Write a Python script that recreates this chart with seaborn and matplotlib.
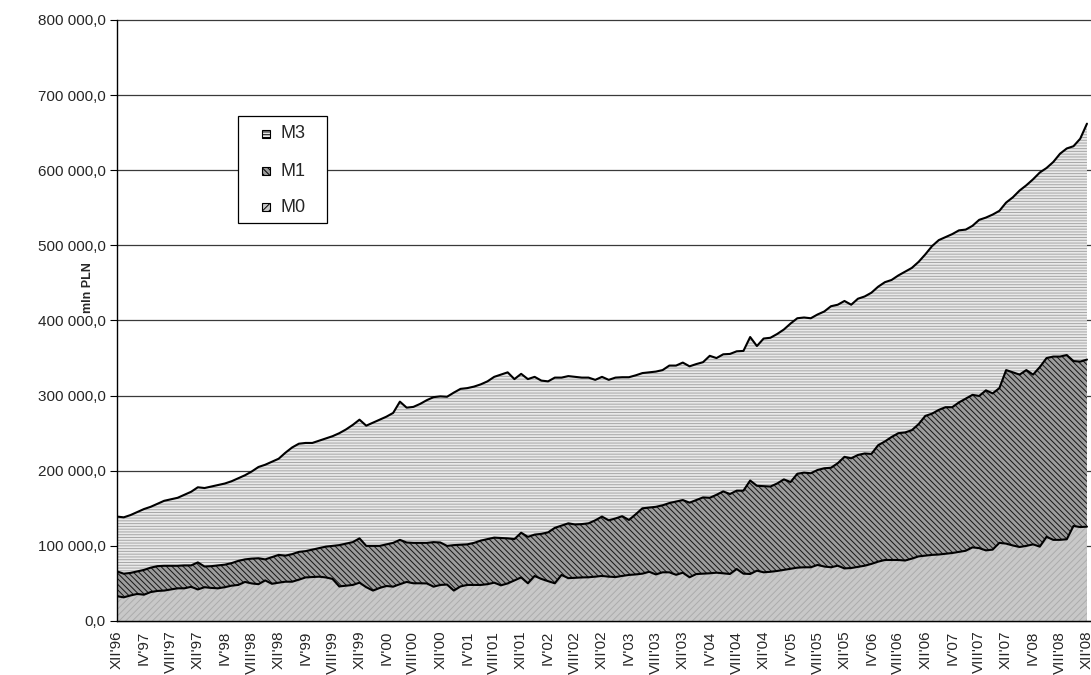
import numpy as np
import pandas as pd
import matplotlib
matplotlib.use("Agg")
import matplotlib.pyplot as plt
import seaborn as sns
from matplotlib.patches import Rectangle

# Monthly money aggregates, XII'96 .. XII'08, in thousands of mln PLN
m3_k = [
    139, 138, 141, 145, 149, 152, 156, 160, 162, 164,
    168, 172, 178, 177, 179, 181, 183, 186, 190, 194,
    199, 205, 208, 212, 216, 224, 231, 236, 237, 237,
    240, 243, 246, 250, 255, 261, 268, 260, 264, 268,
    272, 277, 292, 284, 285, 289, 294, 298, 299, 298.5,
    304, 309, 310, 312, 315, 319, 325, 328, 331, 322,
    329, 322, 325, 320, 319, 324, 324, 326, 325, 324,
    324, 321, 325, 321, 324, 324.5, 324.5, 327, 330, 331,
    332, 334, 340, 340, 344, 339, 342, 344.5, 353, 350,
    355, 355.5, 359, 359.5, 378, 366, 376, 377, 382, 388,
    396, 403, 404, 403, 408, 412, 419, 421, 426, 421,
    429, 432, 437, 445, 451, 454, 460, 465, 470, 478,
    488, 499, 507, 511, 515, 520, 521, 526, 534, 537,
    541, 546, 557, 564, 573, 580, 588, 597, 603, 611,
    622, 629, 632, 642, 662,
]
m1_k = [
    66, 63, 64, 66, 68, 71, 73, 73.5, 73.5, 73.5,
    74, 74, 78, 72.5, 73, 74, 75, 77, 80, 82,
    83, 83.5, 82, 85, 88, 87, 89, 92, 93, 95,
    97, 99, 100, 101, 103, 105, 110, 100, 100, 100,
    102, 104, 108, 104.5, 104, 104, 104, 105, 104.5, 100,
    101, 101.5, 102, 104, 107, 109, 111, 110.5, 110, 109,
    117.5, 112, 115, 116, 118, 124, 127, 130, 128.5, 129,
    130, 134, 139, 134, 136.5, 139.5, 134.5, 142, 150, 151,
    152, 154, 157, 159, 161, 157.5, 161, 164.5, 164, 168,
    172.5, 169, 173.5, 173.5, 187, 180, 179.5, 179, 183, 188.5,
    185, 196, 197.5, 196.7, 201, 203.3, 204, 210, 218.5, 216.6,
    221, 223, 222.4, 234, 239, 245, 250, 251, 254, 262,
    273, 276, 281, 284.6, 284.6, 291, 296, 301, 299.6, 307,
    303, 310, 334, 331, 328, 334, 328, 338, 350, 352,
    352, 354, 346, 345.3, 348,
]
m0_k = [
    33, 31.5, 34, 36, 35, 38.5, 40, 40.5, 42, 43.5,
    43.5, 45.5, 42, 45, 44, 43.5, 45, 47, 48, 52,
    50, 49, 54, 49.5, 51, 52.3, 52.3, 55, 58, 58.5,
    59, 58, 56, 46, 47, 48, 51, 45, 40.5, 44,
    46.6, 45.7, 49, 52, 50.2, 50.2, 50, 45.7, 48, 48.5,
    40.5, 46, 48, 48, 48, 49, 51, 47.5, 50, 54,
    58, 50.2, 59.9, 56, 53, 50.2, 61.3, 57, 57.5, 58,
    58.2, 59, 60, 59, 58.5, 60, 61.3, 62, 63, 65.5,
    62, 64.8, 64.8, 61.5, 64.3, 58.2, 62.5, 63, 63.5, 64.3,
    63.5, 62.6, 69.2, 63, 62.6, 67, 64.8, 65.5, 66.6, 68,
    69.5, 71, 71.5, 71.5, 74.6, 72.5, 71.5, 73.6, 70, 70.5,
    72, 73.6, 76, 79, 81.2, 81.2, 81.2, 80.5, 83, 86,
    87, 88, 88.5, 89.5, 90.5, 92, 93.5, 98, 97, 94,
    95, 104, 103, 100.5, 98.5, 100, 102, 99, 112, 108,
    108, 108.8, 126.5, 125, 125.6,
]

tick_labels = [
    "XII'96", "IV'97", "VIII'97", "XII'97", "IV'98", "VIII'98", "XII'98",
    "IV'99", "VIII'99", "XII'99", "IV'00", "VIII'00", "XII'00",
    "IV'01", "VIII'01", "XII'01", "IV'02", "VIII'02", "XII'02",
    "IV'03", "VIII'03", "XII'03", "IV'04", "VIII'04", "XII'04",
    "IV'05", "VIII'05", "XII'05", "IV'06", "VIII'06", "XII'06",
    "IV'07", "VIII'07", "XII'07", "IV'08", "VIII'08", "XII'08",
]
series_names = ["M3", "M1", "M0"]

df = pd.DataFrame({
    "month": np.arange(len(m3_k)),
    "M3": np.array(m3_k) * 1000.0,
    "M1": np.array(m1_k) * 1000.0,
    "M0": np.array(m0_k) * 1000.0,
})

sns.set_style("white")
plt.rcParams["font.family"] = ["Liberation Sans", "DejaVu Sans"]
plt.rcParams["hatch.linewidth"] = 0.7

# fill styles: (face colour, hatch colour, hatch pattern)
styles = {
    "M3": ("#e9e9e9", "#a6a6a6", "------"),
    "M1": ("#9c9c9c", "#161616", "\\\\\\\\\\\\"),
    "M0": ("#c8c8c8", "#acacac", "/////"),
}

W, H = 1091, 675
fig = plt.figure(figsize=(W / 100, H / 100), dpi=100)
ax = fig.add_axes([117 / W, 54 / H, 974 / W, 601 / H])

for z, name in enumerate(series_names):
    face, hcol, hatch = styles[name]
    ax.fill_between(df["month"], 0, df[name], facecolor=face, edgecolor=hcol,
                    hatch=hatch, linewidth=0, zorder=2 + 2 * z)
    sns.lineplot(data=df, x="month", y=name, color="black", linewidth=1.5,
                 ax=ax, zorder=3 + 2 * z, legend=False)

ax.set_xlim(0, 144.6)
ax.set_ylim(0, 800000)

yt = np.arange(0, 800001, 100000)
ax.set_yticks(yt)
ax.set_yticklabels([f"{v:,.1f}".replace(",", " ").replace(".", ",") for v in yt])
ax.set_xticks(np.arange(0, len(df), 4))
ax.set_xticklabels(tick_labels, rotation=90)
ax.set_xticks(np.arange(0, len(df)), minor=True)
ax.tick_params(axis="x", which="both", direction="out", length=4, width=0.8,
               color="black", labelsize=11, pad=3)
ax.tick_params(axis="y", direction="out", length=5, width=0.8, color="black",
               labelsize=11, pad=3, left=True)

for y in yt:
    ax.axhline(y, color="#3a3a3a", linewidth=0.9, zorder=1, clip_on=False)

for side in ["top", "right"]:
    ax.spines[side].set_visible(False)
for side in ["left", "bottom"]:
    ax.spines[side].set_color("black")
    ax.spines[side].set_linewidth(1.0)
    ax.spines[side].set_zorder(20)

ax.set_xlabel("")
ax.set_ylabel("")
fig.text(88 / W, 1 - 288 / H, "mln PLN", rotation=90, ha="center",
         va="center", fontsize=9, fontweight="bold")

# legend box drawn in figure pixel coordinates
def fx(px):
    return px / W


def fy(py):
    return 1 - py / H


fig.patches.append(Rectangle((fx(238), fy(223)), fx(327) - fx(238), fy(116) - fy(223),
                             transform=fig.transFigure, facecolor="white",
                             edgecolor="black", linewidth=0.9, zorder=30))
for row, name in zip([134, 171, 207], series_names):
    face, hcol, hatch = styles[name]
    fig.patches.append(Rectangle((fx(262), fy(row + 4)), fx(8), 8 / H,
                                 transform=fig.transFigure, facecolor=face,
                                 edgecolor="black", hatch=hatch, linewidth=0.8,
                                 zorder=31))
    fig.text(fx(280), fy(row), name, fontsize=13, ha="left", va="center",
             zorder=32)

fig.savefig("out.png", dpi=100)
